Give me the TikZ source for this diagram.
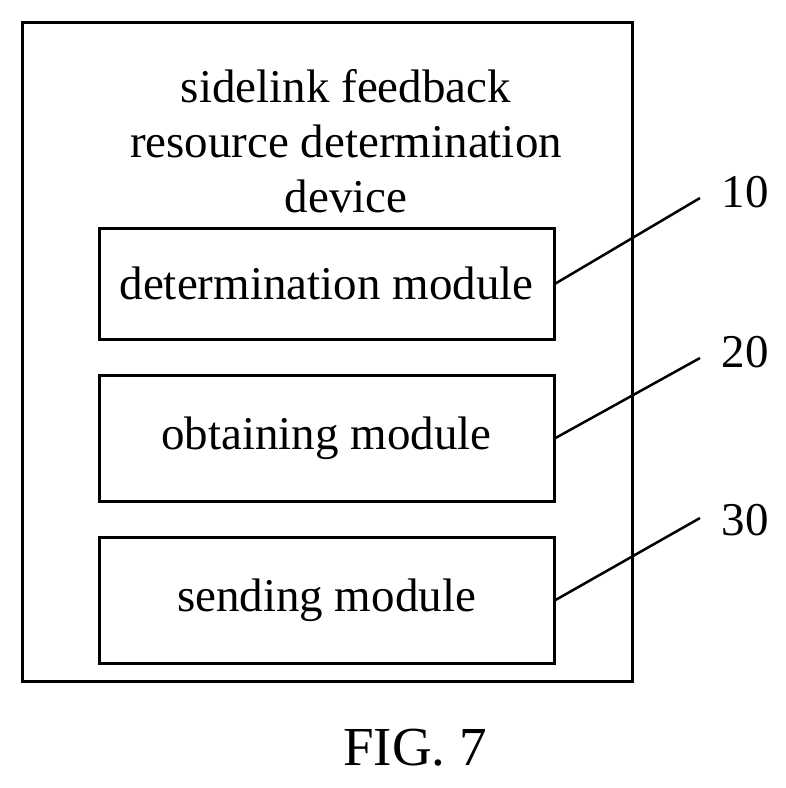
\documentclass[tikz,border=0pt]{standalone}
\usepackage{fontspec}
\setmainfont{Liberation Serif}
\begin{document}
\begin{tikzpicture}[x=1pt,y=-1pt,line width=3pt]
    % `module' is used for the inner boxes, `leader' for the reference lines.
    \tikzstyle{module} = [draw,minimum width=455pt,inner sep=0pt,font=\fontsize{47}{47}\selectfont]
    \tikzstyle{num} = [font=\fontsize{47}{47}\selectfont]
    \tikzstyle{leader} = [line width=2.5pt]
    \useasboundingbox (0,0) rectangle (786,788);
    \node[draw,minimum width=610pt,minimum height=659pt,inner sep=0pt] (device) at (327,351.5) {};
    \node[align=center,font=\fontsize{47}{55}\selectfont] (title) at (346,141)
      {sidelink feedback\\resource determination\\device};
    \node[module,minimum height=111pt] (det) at (326.5,283.5) {determination module};
    \node[module,minimum height=126pt] (obt) at (326.5,438) {obtaining module};
    \node[module,minimum height=126pt] (snd) at (326.5,600) {sending module};
    \node[num] (n10) at (745,192) {10};
    \node[num] (n20) at (745,352) {20};
    \node[num] (n30) at (745,520) {30};
    \coordinate (e10) at (700,198);
    \coordinate (e20) at (700,358);
    \coordinate (e30) at (700,518);
    \draw[leader] (det.east) -- (e10);
    \draw[leader] (obt.east) -- (e20);
    \draw[leader] (snd.east) -- (e30);
    \node[font=\fontsize{55}{55}\selectfont] (fig) at (415,748) {FIG. 7};
\end{tikzpicture}
\end{document}
